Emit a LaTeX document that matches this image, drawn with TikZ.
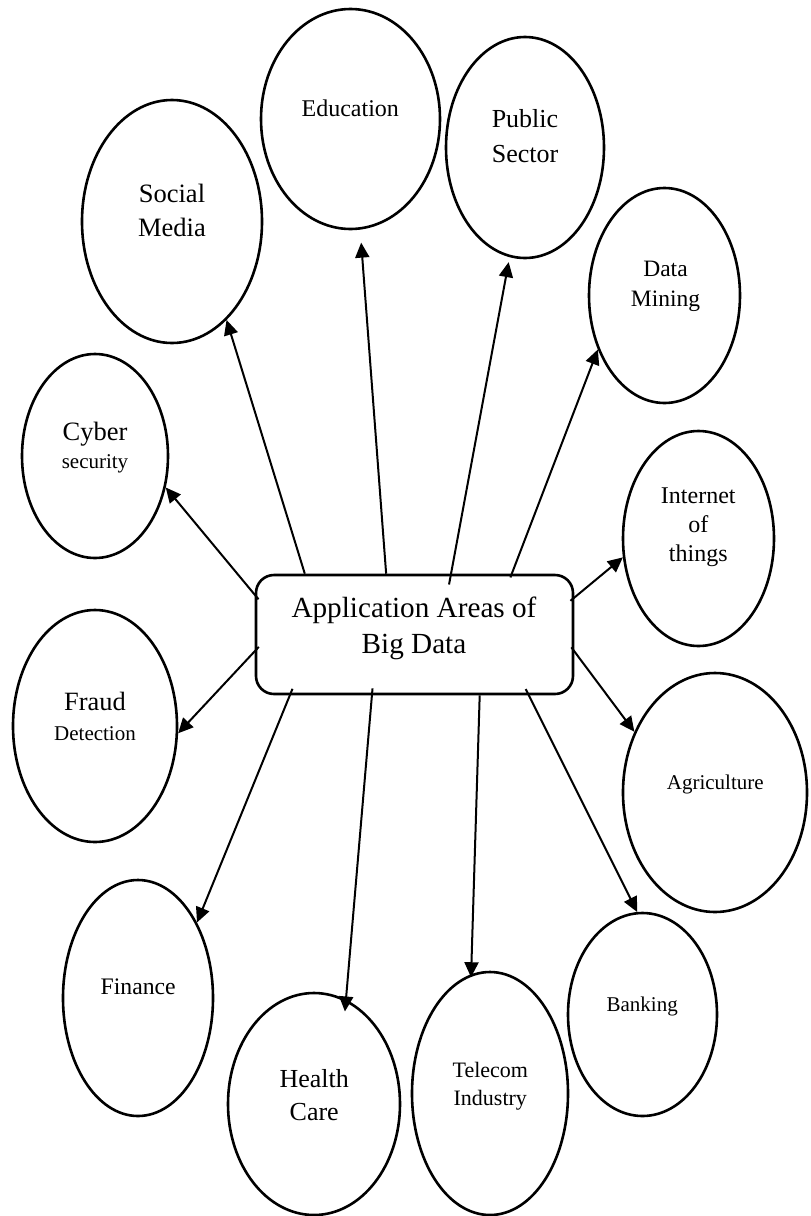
\documentclass[tikz,border=0pt]{standalone}
\usepackage{fontspec}
\setmainfont{Liberation Serif}
\usetikzlibrary{shapes.geometric,arrows.meta}

\begin{document}
\begin{tikzpicture}[x=1pt,y=-1pt,
    area/.style={ellipse,draw,line width=2.6pt,inner sep=0pt},
    hubbox/.style={rectangle,draw,line width=2.6pt,rounded corners=18pt},
    lbl/.style={align=center,inner sep=0pt},
    link/.style={line width=2pt,-{Triangle[length=15pt,width=14pt]}}]
  \useasboundingbox (0,0) rectangle (811,1216);
  % centre box
  \node[hubbox,minimum width=317pt,minimum height=119pt] (hub) at (414.5,634.5) {};
  \node[lbl,font=\fontsize{29.2}{36}\selectfont] (thub) at (414,628.2) {Application Areas of\\Big Data};
  % areas
  \node[area,minimum width=179pt,minimum height=220pt] (edu) at (350.5,119) {};
  \node[area,minimum width=158pt,minimum height=221pt] (pub) at (525,147.5) {};
  \node[area,minimum width=180pt,minimum height=243pt] (soc) at (172,221.5) {};
  \node[area,minimum width=151pt,minimum height=215pt] (dmin) at (664.5,295.5) {};
  \node[area,minimum width=146pt,minimum height=204pt] (cyb) at (95,456) {};
  \node[area,minimum width=151pt,minimum height=215pt] (iot) at (698.5,538.5) {};
  \node[area,minimum width=164pt,minimum height=232pt] (frd) at (95,726) {};
  \node[area,minimum width=184pt,minimum height=239pt] (agr) at (715,792.5) {};
  \node[area,minimum width=150pt,minimum height=236pt] (fin) at (138,998) {};
  \node[area,minimum width=172pt,minimum height=222pt] (hlt) at (314,1104) {};
  \node[area,minimum width=156pt,minimum height=243pt] (tel) at (490,1093.5) {};
  \node[area,minimum width=149pt,minimum height=203pt] (bnk) at (642.5,1014.5) {};
  % texts
  \node[lbl,font=\fontsize{24}{29}\selectfont] (tedu) at (350.3,107.8) {Education};
  \node[lbl,font=\fontsize{26}{35}\selectfont] (tpub) at (525,136.6) {Public\\Sector};
  \node[lbl,font=\fontsize{26.5}{34}\selectfont] (tsoc) at (172,210) {Social\\Media};
  \node[lbl,font=\fontsize{23.5}{30}\selectfont] (tdmin) at (665.5,286.5) {Data\\Mining};
  \node[lbl,font=\fontsize{26.5}{28}\selectfont] (tcyb) at (95,447.2) {Cyber\\{\fontsize{21}{28}\selectfont security}};
  \node[lbl,font=\fontsize{24}{29}\selectfont] (tiot) at (698.3,527.4) {Internet\\of\\things};
  \node[lbl,font=\fontsize{26.4}{30}\selectfont] (tfrd) at (95,716) {Fraud\\{\fontsize{21}{30}\selectfont Detection}};
  \node[lbl,font=\fontsize{21}{25}\selectfont] (tagr) at (715.3,784.1) {Agriculture};
  \node[lbl,font=\fontsize{23.7}{28}\selectfont] (tfin) at (138.2,986.9) {Finance};
  \node[lbl,font=\fontsize{26}{33}\selectfont] (thlt) at (314.2,1094.6) {Health\\Care};
  \node[lbl,font=\fontsize{22}{28}\selectfont] (ttel) at (490.3,1085.9) {Telecom\\Industry};
  \node[lbl,font=\fontsize{21}{25}\selectfont] (tbnk) at (642.2,1006.2) {Banking};
  % arrows
  \foreach \s/\t/\a/\b in {151/soc.-61/0pt/0pt, 115/edu.-85.6/0pt/13pt, 59.2/pub.-98.5/-11pt/5pt,
      32.8/dmin.-141/-4pt/0pt, 13/iot.-166/-5pt/0pt, 166.9/cyb.-24/-6pt/0pt, 186.5/frd.-5/-6pt/0pt,
      -6.5/agr.143/-5pt/0pt, -28.4/bnk.93.6/-7pt/0pt, -43.1/tel.99/0pt/-3pt, 235.3/hlt.73.6/-7pt/-12pt,
      206.1/fin.52/-7pt/0pt}
    \draw[link,shorten <=\a,shorten >=\b] (hub.\s) -- (\t);
\end{tikzpicture}
\end{document}
